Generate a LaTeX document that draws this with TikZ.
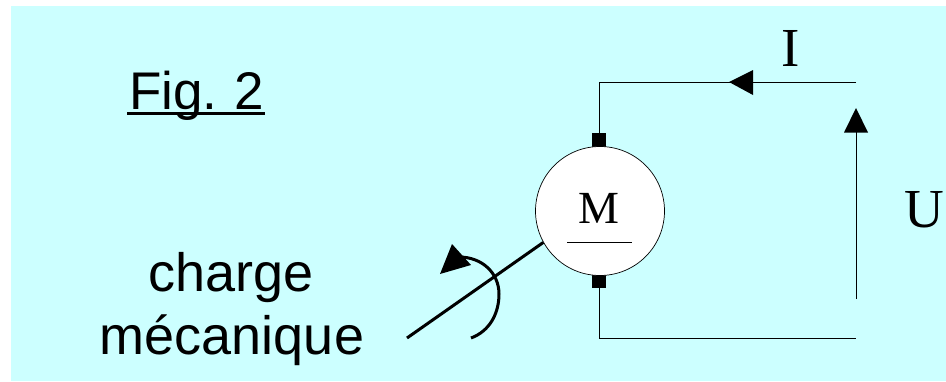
\documentclass[tikz,border=0pt]{standalone}
\usepackage{fontspec}
\setmainfont{Liberation Serif}
\setsansfont{Liberation Sans}
\usetikzlibrary{arrows.meta}
\definecolor{bgc}{HTML}{CCFFFF}
\tikzset{
  x=1pt,y=-1pt,
  seriflarge/.style={inner sep=0pt,font=\fontsize{55}{55}\selectfont},
  serifmid/.style={inner sep=0pt,font=\fontsize{46}{46}\selectfont},
  sansl/.style={inner sep=0pt,font=\sffamily\fontsize{54}{60}\selectfont},
  wire/.style={line width=0.9pt,black},
  shaft/.style={line width=3pt,black},
  tip/.style={fill=black,draw=none},
  brush/.style={tip,minimum width=14pt,minimum height=14pt,inner sep=0pt},
}
\begin{document}
\begin{tikzpicture}
\useasboundingbox (0,0) rectangle (946,381);
\fill[white] (0,0) rectangle (946,381);
\fill[bgc] (11,6) rectangle (946,381);
% brushes
\node[brush] (bt) at (599,140) {};
\node[brush] (bb) at (599,280.5) {};
% motor
\node[circle,draw=black,fill=white,line width=0.7pt,minimum size=129pt,inner sep=0pt] (motor) at (600,211) {};
\node[serifmid,anchor=base] (m) at (599,223) {M};
\coordinate (ml) at (567,242);
\coordinate (mr) at (632,242);
\draw[wire] (ml) -- (mr);
% wires
\coordinate (tr) at (856,82);
\coordinate (tc) at (599,82);
\coordinate (br) at (856,338);
\coordinate (bc) at (599,338);
\draw[wire] (tr) -- (tc) -- (bt.north);
\draw[wire] (bb.south) -- (bc) -- (br);
\coordinate (ia) at (729,82);
\coordinate (ib) at (753,70);
\coordinate (ic) at (753,95);
\fill[tip] (ia) -- (ib) -- (ic) -- cycle;
% voltage arrow
\coordinate (us) at (856,299);
\coordinate (ue) at (856,132);
\coordinate (uh) at (844,132.5);
\coordinate (uk) at (868,132.5);
\coordinate (ut) at (856,108);
\draw[wire] (us) -- (ue);
\fill[tip] (ut) -- (uh) -- (uk) -- cycle;
% labels
\node[seriflarge,anchor=base] (i) at (791,66) {I};
\node[seriflarge,anchor=base] (u) at (924,227) {U};
\node[sansl,anchor=base west,font=\sffamily\fontsize{53}{60}\selectfont] (fig) at (129,109) {Fig.\hspace{-3pt} 2};
\coordinate (ula) at (127,113);
\coordinate (ulb) at (265,113);
\draw[line width=3pt] (ula) -- (ulb);
\node[sansl,anchor=base] (c1) at (231,291) {charge};
\node[sansl,anchor=base] (c2) at (232,354) {mécanique};
% shaft
\coordinate (se) at (407,338);
\draw[shaft] (se) -- (motor.209);
\coordinate (as) at (471,338);
\coordinate (ae) at (459,257);
\draw[shaft] (as) .. controls (490,331) and (499,313) .. (499,294) .. controls (499,273) and (482,257) .. (ae);
\coordinate (a1) at (452,244);
\coordinate (a2) at (440,274);
\coordinate (a3) at (471,265);
\fill[tip] (a1) -- (a2) -- (a3) -- cycle;
\end{tikzpicture}
\end{document}
